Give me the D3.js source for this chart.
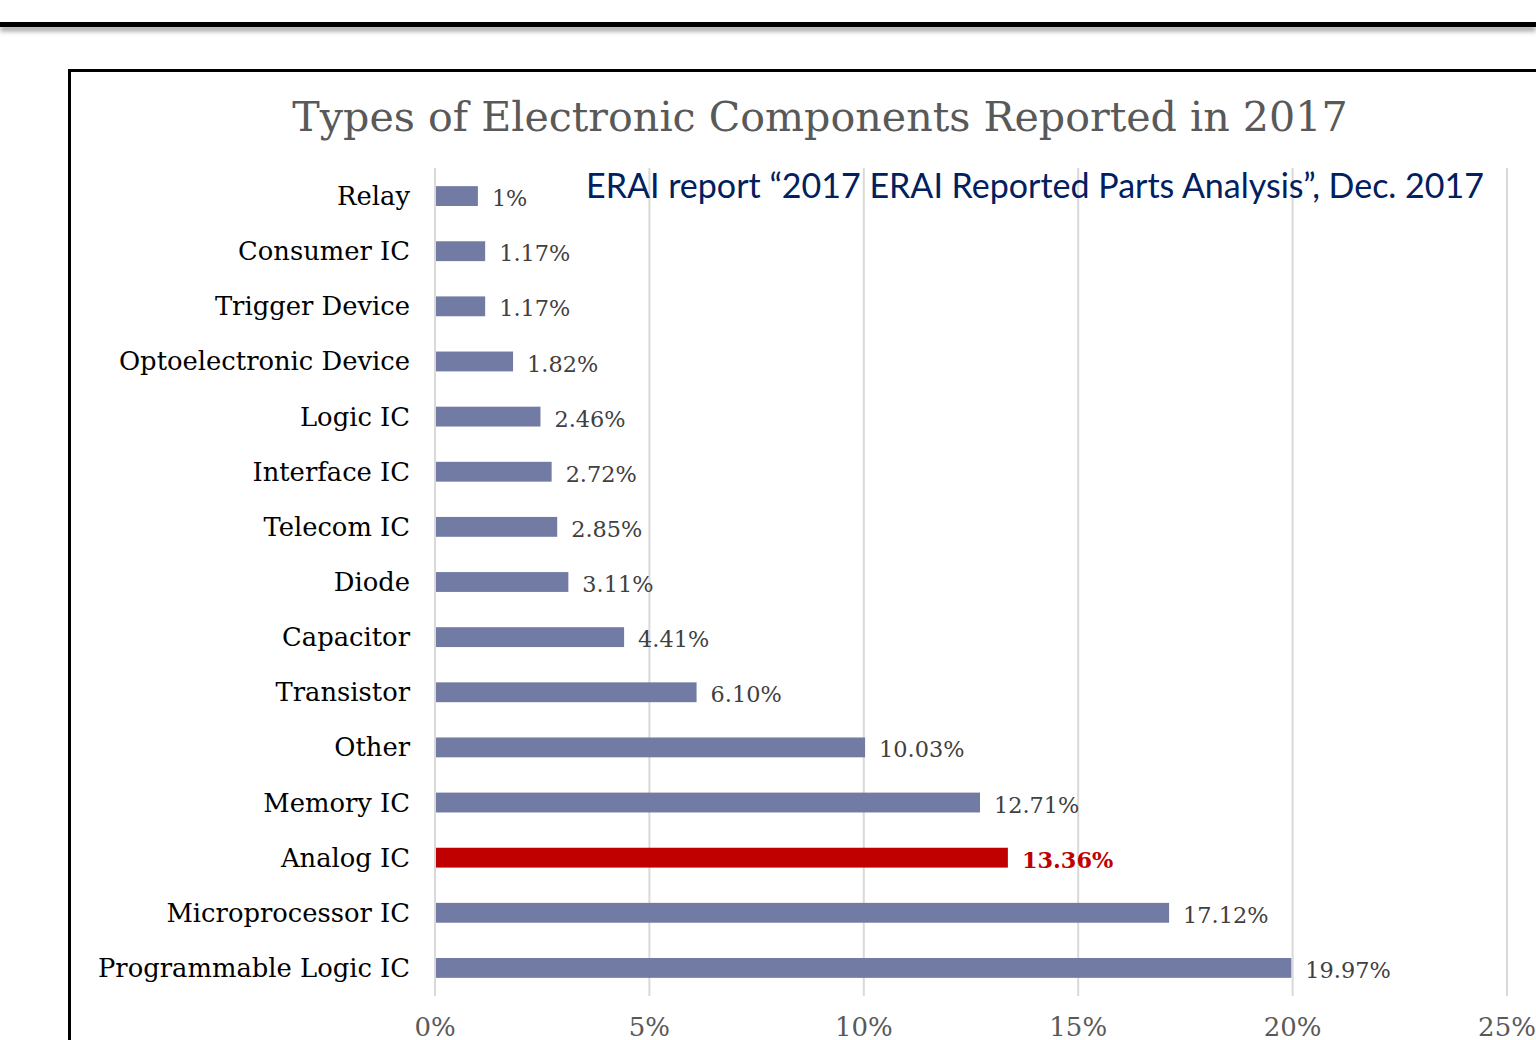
<!DOCTYPE html>
<html>
<head>
<meta charset="utf-8">
<script src="https://cdn.jsdelivr.net/npm/d3@7"></script>
<style>
  html, body { margin: 0; padding: 0; background: #fff; }
  svg { display: block; }
</style>
</head>
<body>
<div class="js-d3"></div>
<script>
const categories = [
  "Relay", "Consumer IC", "Trigger Device", "Optoelectronic Device", "Logic IC",
  "Interface IC", "Telecom IC", "Diode", "Capacitor", "Transistor", "Other",
  "Memory IC", "Analog IC", "Microprocessor IC", "Programmable Logic IC"
];
const values = [1, 1.17, 1.17, 1.82, 2.46, 2.72, 2.85, 3.11, 4.41, 6.10, 10.03, 12.71, 13.36, 17.12, 19.97];
const valueLabels = ["1%", "1.17%", "1.17%", "1.82%", "2.46%", "2.72%", "2.85%", "3.11%", "4.41%", "6.10%", "10.03%", "12.71%", "13.36%", "17.12%", "19.97%"];
const highlight = "Analog IC";
const ticks = [0, 5, 10, 15, 20, 25];

const title = "Types of Electronic Components Reported in 2017";
const note = "ERAI report \u201c2017 ERAI Reported Parts Analysis\u201d, Dec. 2017";

const W = 1536, H = 1040;
const serif = "'DejaVu Serif', serif";

const svg = d3.select(".js-d3").append("svg")
  .attr("width", W).attr("height", H);

const defs = svg.append("defs");
const blur = defs.append("filter").attr("id", "shadow")
  .attr("x", "-5%").attr("y", "-100%").attr("width", "110%").attr("height", "400%");
blur.append("feGaussianBlur").attr("stdDeviation", 2.5);

// slide header rule with its soft shadow
svg.append("rect").attr("x", 0).attr("y", 26).attr("width", W).attr("height", 5)
  .attr("fill", "#999").attr("filter", "url(#shadow)");
svg.append("rect").attr("x", 0).attr("y", 22).attr("width", W).attr("height", 5)
  .attr("fill", "#000");

// chart frame
svg.append("rect").attr("x", 69.5).attr("y", 70.5)
  .attr("width", W).attr("height", H)
  .attr("fill", "none").attr("stroke", "#000").attr("stroke-width", 3);

svg.append("text")
  .attr("x", 820).attr("y", 131)
  .attr("text-anchor", "middle")
  .attr("font-family", serif).attr("font-size", 41.2)
  .attr("fill", "#595959")
  .text(title);

const x = d3.scaleLinear().domain([0, 25]).range([435, 1507]);
const y = d3.scaleBand().domain(categories).range([168.5, 995.5])
  .paddingInner(0.64).paddingOuter(0.32);

// gridlines
svg.append("g").selectAll("line").data(ticks).join("line")
  .attr("x1", d => x(d)).attr("x2", d => x(d))
  .attr("y1", 168).attr("y2", 996)
  .attr("stroke", "#d9d9d9").attr("stroke-width", 2);

// tick labels
svg.append("g").selectAll("text").data(ticks).join("text")
  .attr("x", d => x(d)).attr("y", 1036)
  .attr("text-anchor", "middle")
  .attr("font-family", serif).attr("font-size", 26)
  .attr("fill", "#595959")
  .text(d => d + "%");

const rows = categories.map((c, i) => ({ name: c, value: values[i], label: valueLabels[i] }));

svg.append("g").selectAll("rect").data(rows).join("rect")
  .attr("x", x(0) + 1)
  .attr("y", d => y(d.name))
  .attr("width", d => x(d.value) - x(0) - 1)
  .attr("height", y.bandwidth())
  .attr("fill", d => d.name === highlight ? "#c00000" : "#717ba3");

// category labels
svg.append("g").selectAll("text").data(rows).join("text")
  .attr("x", 410)
  .attr("y", d => y(d.name) + y.bandwidth() / 2)
  .attr("dy", "0.35em")
  .attr("text-anchor", "end")
  .attr("font-family", serif).attr("font-size", 25.8)
  .attr("fill", "#000")
  .text(d => d.name);

// value labels
svg.append("g").selectAll("text").data(rows).join("text")
  .attr("x", d => x(d.value) + 14)
  .attr("y", d => y(d.name) + y.bandwidth() / 2)
  .attr("dy", "0.45em")
  .attr("font-family", serif).attr("font-size", 22.4)
  .attr("font-weight", d => d.name === highlight ? "bold" : "normal")
  .attr("fill", d => d.name === highlight ? "#c00000" : "#404040")
  .text(d => d.label);

svg.append("text")
  .attr("x", 586).attr("y", 198)
  .attr("font-family", "Lato, 'Open Sans', sans-serif").attr("font-size", 34)
  .attr("fill", "#002060")
  .text(note);
</script>
</body>
</html>
